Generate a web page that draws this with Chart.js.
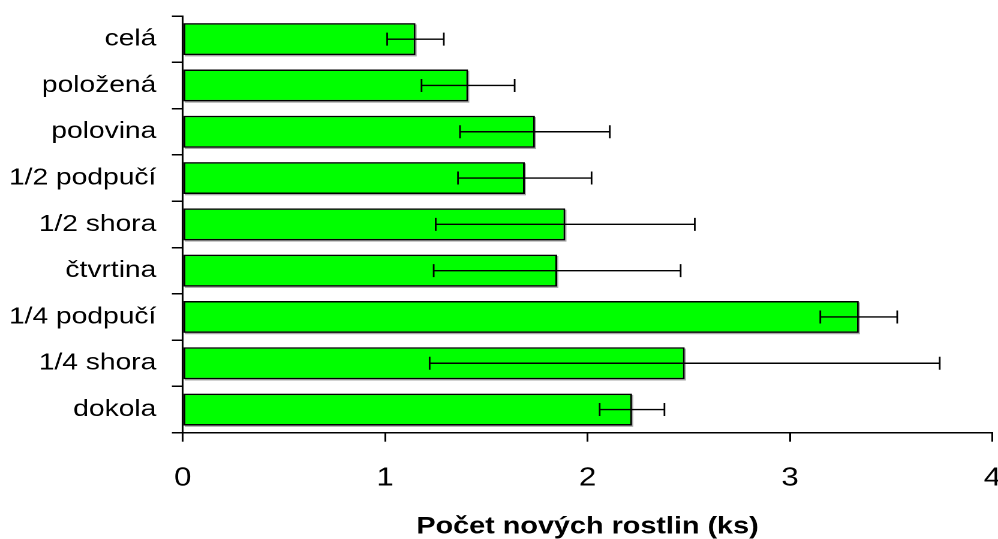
<!DOCTYPE html>
<html>
<head>
<meta charset="utf-8">
<script src="https://cdn.jsdelivr.net/npm/chart.js@4"></script>
<style>
  html, body { margin: 0; padding: 0; background: #fff; overflow: hidden; }
  /* the reference is drawn slightly wide, so the chart is stretched horizontally */
  #wrap { width: 832px; height: 539px; transform: scaleX(1.1995); transform-origin: 0 0; }
</style>
</head>
<body>
<div id="wrap"><canvas id="chart" width="832" height="539"></canvas></div>
<script>
  // categories top to bottom
  const categories = ['celá', 'položená', 'polovina', '1/2 podpučí', '1/2 shora',
                      'čtvrtina', '1/4 podpučí', '1/4 shora', 'dokola'];
  // mean number of new plants and error (+/-)
  const means  = [1.15, 1.41, 1.74, 1.69, 1.89, 1.85, 3.34, 2.48, 2.22];
  const errors = [0.14, 0.23, 0.37, 0.33, 0.64, 0.61, 0.19, 1.26, 0.16];
  const xTicks = [0, 1, 2, 3, 4];

  const font = 'Liberation Sans, Arial, sans-serif';

  // thin grey shadow under each bar, error bars on top
  const barDecor = {
    id: 'barDecor',
    beforeDatasetsDraw(chart) {
      const ctx = chart.ctx;
      const meta = chart.getDatasetMeta(0);
      ctx.save();
      ctx.fillStyle = '#a8a8a8';
      meta.data.forEach(bar => {
        const { x, y, base, height } = bar.getProps(['x', 'y', 'base', 'height']);
        ctx.fillRect(base + 1, y - height / 2 + 1.3, x - base, height);
      });
      ctx.restore();
    },
    afterDatasetsDraw(chart) {
      const ctx = chart.ctx;
      const x = chart.scales.x;
      const meta = chart.getDatasetMeta(0);
      ctx.save();
      ctx.strokeStyle = '#000';
      ctx.lineWidth = 1.4;
      meta.data.forEach((bar, i) => {
        const lo = x.getPixelForValue(means[i] - errors[i]);
        const hi = x.getPixelForValue(means[i] + errors[i]);
        const y = bar.y;
        ctx.beginPath();
        ctx.moveTo(lo, y); ctx.lineTo(hi, y);
        ctx.moveTo(lo, y - 6.5); ctx.lineTo(lo, y + 6.5);
        ctx.moveTo(hi, y - 6.5); ctx.lineTo(hi, y + 6.5);
        ctx.stroke();
      });
      ctx.restore();
    }
  };

  const config = {
    type: 'bar',
    data: {
      labels: categories,
      datasets: [{
        data: means,
        backgroundColor: '#00ff00',
        borderColor: '#000000',
        borderWidth: 1.5,
        borderSkipped: false,
        categoryPercentage: 0.69,
        barPercentage: 1.0,
      }],
    },
    options: {
      indexAxis: 'y',
      responsive: false,
      animation: false,
      devicePixelRatio: 2,
      layout: { padding: { top: 16, left: 4, right: 0, bottom: 0 } },
      plugins: {
        legend: { display: false },
        tooltip: { enabled: false },
      },
      scales: {
        x: {
          type: 'linear',
          min: 0,
          max: 4,
          afterBuildTicks: axis => { axis.ticks = xTicks.map(v => ({ value: v })); },
          afterFit: axis => {
            axis.height = 106.3;
            axis.paddingLeft = 0;
            axis.paddingRight = 4.7;
          },
          grid: { drawOnChartArea: false, tickLength: 9, color: '#000', lineWidth: 1.5 },
          border: { display: true, color: '#000', width: 1.5 },
          ticks: { color: '#000', padding: 21, font: { family: font, size: 26 } },
          title: {
            display: true,
            text: 'Počet nových rostlin (ks)',
            color: '#000',
            font: { family: font, size: 24, weight: 'bold', lineHeight: 1 },
            padding: { top: 10, bottom: 0 },
          },
        },
        y: {
          afterFit: axis => {
            axis.width = 148.3;
            axis.paddingTop = 0;
            axis.paddingBottom = 0;
          },
          grid: { drawOnChartArea: false, offset: true, tickLength: 9, color: '#000', lineWidth: 1.5 },
          border: { display: true, color: '#000', width: 1.5 },
          ticks: { color: '#000', padding: 13, font: { family: font, size: 23.5 } },
        },
      },
    },
    plugins: [barDecor],
  };

  new Chart(document.getElementById('chart'), config);
</script>
</body>
</html>
